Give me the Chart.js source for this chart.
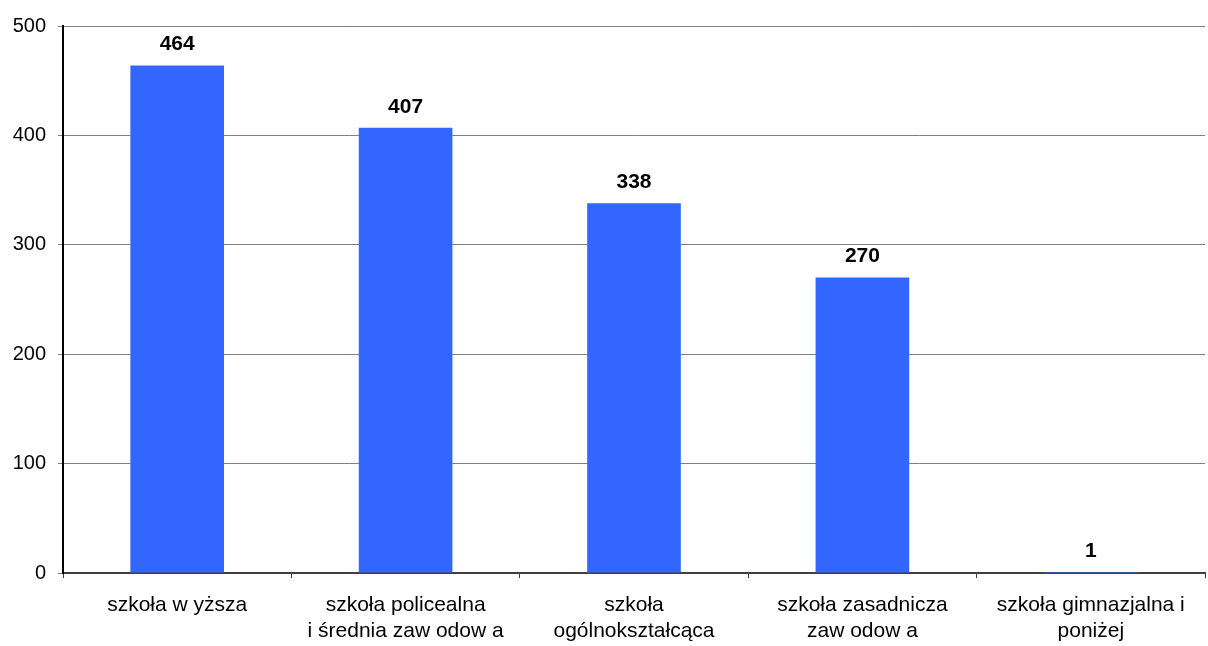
<!DOCTYPE html>
<html>
<head>
<meta charset="utf-8">
<script src="https://cdn.jsdelivr.net/npm/chart.js@4/dist/chart.umd.min.js"></script>
<style>
html,body{margin:0;padding:0;background:#fff;}
#wrap{width:1208px;height:646px;position:relative;}
</style>
</head>
<body>
<div id="wrap"><canvas id="c" width="1208" height="646"></canvas></div>
<script>
const categories = [
  ["szkoła w yższa"],
  ["szkoła policealna", "i średnia zaw odow a"],
  ["szkoła", "ogólnokształcąca"],
  ["szkoła zasadnicza", "zaw odow a"],
  ["szkoła gimnazjalna i", "poniżej"]
];
const values = [464, 407, 338, 270, 1];
const yTicks = [0, 100, 200, 300, 400, 500];

const FONT = "'Liberation Sans', Arial, sans-serif";

const dataLabels = {
  id: 'dataLabels',
  afterDatasetsDraw(chart) {
    const ctx = chart.ctx;
    const meta = chart.getDatasetMeta(0);
    ctx.save();
    ctx.font = "bold 21px " + FONT;
    ctx.fillStyle = '#000';
    ctx.textAlign = 'center';
    ctx.textBaseline = 'middle';
    meta.data.forEach((bar, i) => {
      ctx.fillText(String(values[i]), bar.x, bar.y - 21);
    });
    ctx.restore();
  }
};

new Chart(document.getElementById('c'), {
  type: 'bar',
  data: {
    labels: categories,
    datasets: [{
      data: values,
      backgroundColor: '#3366FF',
      borderWidth: 0,
      categoryPercentage: 1,
      barPercentage: 0.41
    }]
  },
  options: {
    responsive: false,
    animation: false,
    layout: { padding: { top: 26, right: 3, left: 0, bottom: 0 } },
    plugins: { legend: { display: false }, tooltip: { enabled: false } },
    scales: {
      x: {
        grid: { display: true, drawOnChartArea: false, drawTicks: true, tickLength: 5, color: '#404040', offset: true },
        border: { display: true, color: '#404040', width: 2 },
        ticks: { color: '#000', font: { family: FONT, size: 21, lineHeight: 1.24 }, padding: 14, maxRotation: 0, autoSkip: false },
        afterFit(scale) { scale.height = 73; }
      },
      y: {
        min: 0, max: 500,
        afterBuildTicks(scale) { scale.ticks = yTicks.map(v => ({ value: v })); },
        grid: { color: '#808080', lineWidth: 1, tickLength: 5, drawTicks: true },
        border: { display: true, color: '#000', width: 2 },
        ticks: { color: '#000', font: { family: FONT, size: 20 }, padding: 12 },
        afterFit(scale) { scale.width = 63; }
      }
    }
  },
  plugins: [dataLabels]
});
</script>
</body>
</html>
